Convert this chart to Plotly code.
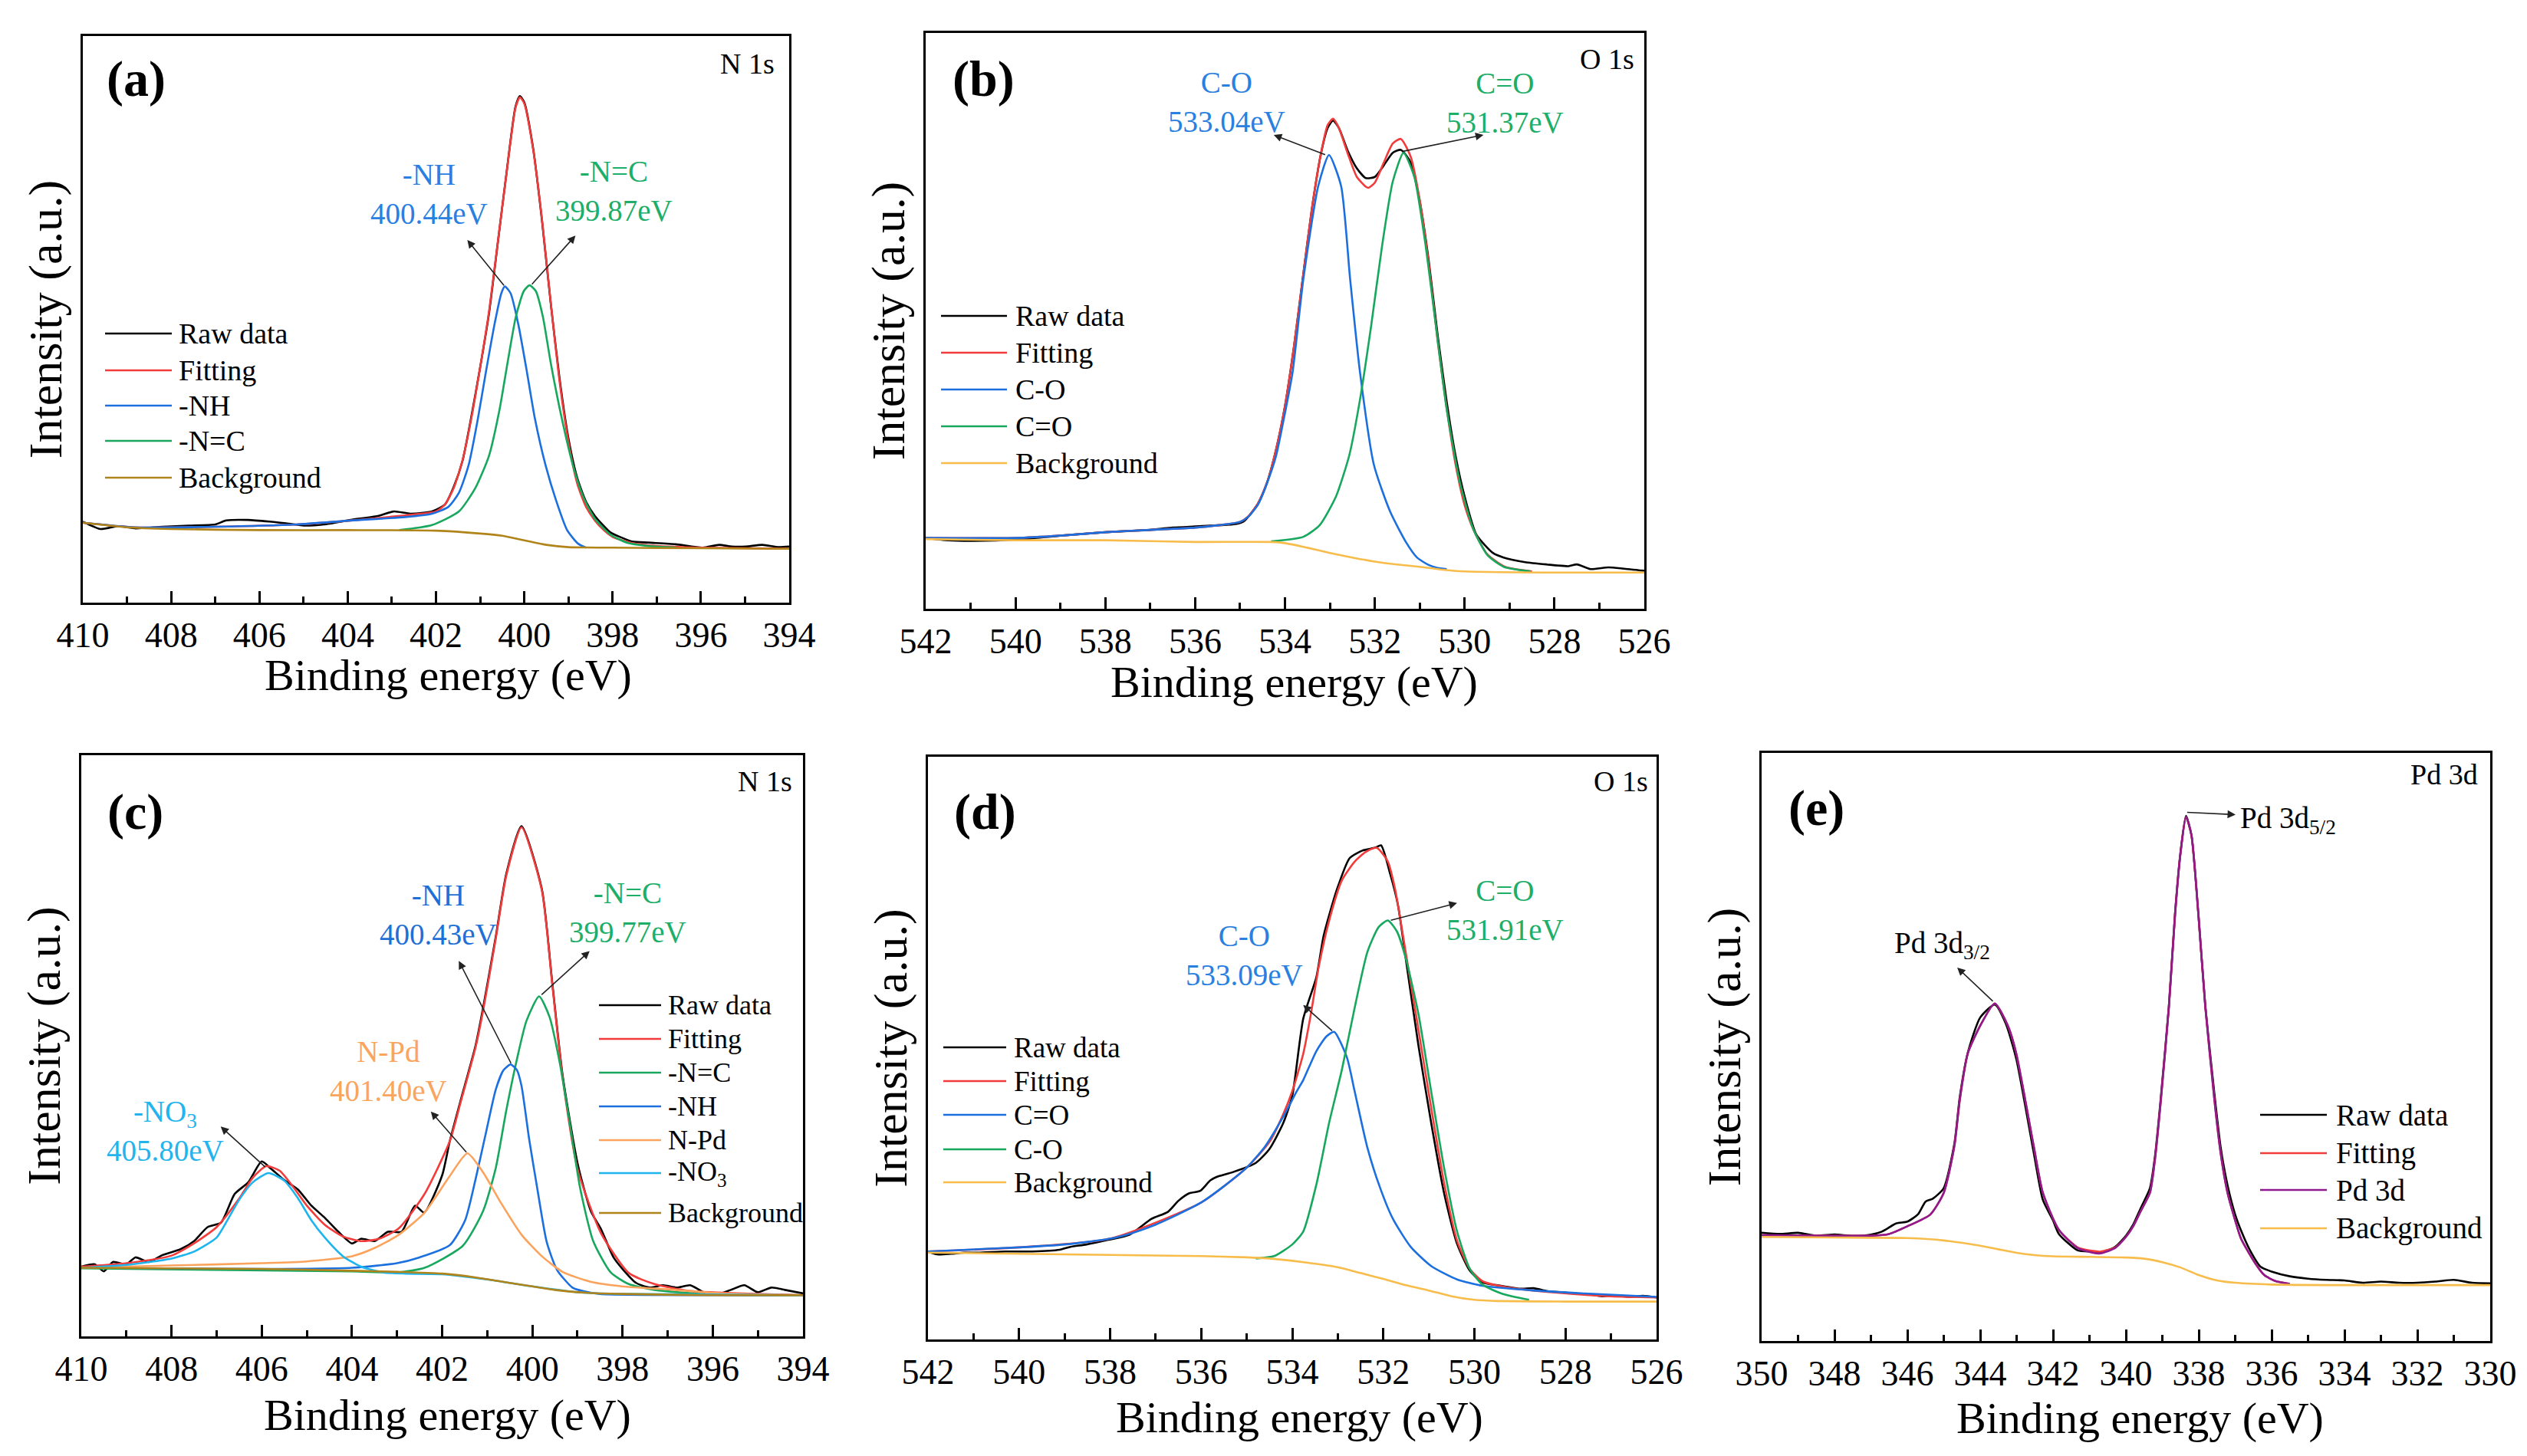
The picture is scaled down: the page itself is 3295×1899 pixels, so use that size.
import plotly.graph_objects as go

# XPS spectra, intensity in arbitrary units (0-100 = frame height)

# (a) N 1s
a_raw_x = [410.0, 409.6, 409.2, 408.8, 408.2, 407.6, 407.0, 406.75, 406.26, 405.77, 405.3, 405.0, 404.54, 403.93,
           403.32, 402.95, 402.58, 402.09, 401.8, 401.6, 401.4, 401.2, 401.0, 400.8, 400.6, 400.4, 400.2, 400.1, 400.0,
           399.8, 399.6, 399.4, 399.2, 399.0, 398.8, 398.6, 398.4, 398.05, 397.8, 397.56, 397.19, 396.57, 395.96,
           395.59, 395.3, 394.98, 394.61, 394.24, 394.0]
a_raw_y = [14.3, 13.0, 13.5, 13.1, 13.4, 13.6, 13.8, 14.5, 14.6, 14.3, 13.9, 13.6, 13.8, 14.6,
           15.3, 16.1, 15.7, 16.1, 17.3, 20.4, 25.0, 32.8, 41.5, 51.0, 63.5, 76.0, 87.5, 89.4, 88.3,
           80.2, 67.5, 52.8, 39.5, 29.0, 22.0, 17.8, 15.3, 12.4, 11.5, 10.8, 10.6, 10.3, 9.7,
           10.2, 9.9, 9.9, 10.2, 9.8, 9.9]
a_fit_x = [410.0, 408.84, 407.0, 405.16, 403.93, 402.7, 402.0, 401.8, 401.6, 401.4, 401.2, 401.0, 400.8, 400.6,
           400.4, 400.2, 400.1, 400.0, 399.8, 399.6, 399.4, 399.2, 399.0, 398.8, 398.6, 398.4, 398.2, 398.0, 397.6,
           397.0, 396.0, 394.0]
a_fit_y = [14.1, 13.3, 13.4, 13.8, 14.5, 15.4, 16.1, 17.3, 20.2, 25.1, 32.5, 41.5, 51.3, 63.6,
           75.9, 87.3, 89.2, 88.1, 80.0, 67.7, 52.9, 39.0, 28.4, 21.0, 16.9, 14.5, 12.8, 11.6, 10.6,
           10.0, 9.7, 9.5]
a_nh_x = [410.0, 408.84, 407.0, 405.16, 403.93, 402.7, 402.09, 401.72, 401.48, 401.26, 401.05, 400.87, 400.68,
          400.52, 400.44, 400.31, 400.13, 399.94, 399.76, 399.52, 399.27, 399.03, 398.78, 398.6]
a_nh_y = [14.1, 13.3, 13.4, 13.8, 14.5, 15.1, 15.7, 16.9, 19.4, 24.3, 32.5, 40.7, 48.9,
          54.6, 55.8, 54.6, 48.9, 40.7, 32.5, 24.3, 17.8, 12.8, 10.4, 9.7]
a_nc_x = [402.83, 402.09, 401.48, 401.11, 400.8, 400.56, 400.38, 400.19, 400.01, 399.88, 399.74, 399.58, 399.4,
          399.15, 398.9, 398.66, 398.41, 398.05, 397.68, 397.19, 396.57]
a_nc_y = [12.8, 13.7, 16.1, 20.2, 25.9, 34.1, 42.3, 50.5, 55.0, 56.0, 55.0, 50.5, 42.3,
          32.5, 24.3, 18.6, 14.9, 12.0, 10.6, 10.0, 9.7]
a_bg_x = [410, 409, 408, 406, 404, 402, 401, 400.5, 400, 399.5, 399, 398, 396, 394]
a_bg_y = [14.1, 13.3, 13.0, 12.8, 12.8, 12.7, 12.2, 11.8, 11.0, 10.2, 9.8, 9.7, 9.6, 9.5]

# (b) O 1s
b_raw_x = [542, 541.5, 541.0, 540.0, 539.0, 538.0, 537.5, 537.0, 536.5, 536.0, 535.5, 535.1, 534.9, 534.6, 534.4,
           534.2, 534.0, 533.8, 533.6, 533.4, 533.2, 533.05, 532.93, 532.8, 532.6, 532.4, 532.2, 532.0, 531.8,
           531.6, 531.42, 531.2, 531.0, 530.8, 530.6, 530.4, 530.2, 530.0, 529.74, 529.37, 529.13, 528.65, 528.17,
           527.69, 527.5, 527.2, 526.8, 526.48, 526.0]
b_raw_y = [12.3, 11.9, 11.8, 12.0, 12.7, 13.3, 13.5, 13.7, 14.1, 14.3, 14.5, 14.7, 15.3, 18.3, 21.9,
           27.6, 35.2, 45.5, 57.6, 69.5, 79.0, 83.5, 84.8, 83.5, 79.5, 76.5, 74.8, 75.0, 77.0,
           79.2, 79.7, 77.5, 70.8, 60.5, 47.5, 36.0, 26.5, 19.5, 12.9, 9.7, 8.9, 8.1, 7.7,
           7.4, 7.7, 6.9, 7.2, 7.0, 6.6]
b_fit_x = [542, 540, 539, 538, 537, 536, 535.5, 535.0, 534.8, 534.6, 534.4, 534.2, 534.0, 533.8, 533.6, 533.4,
           533.2, 533.05, 532.93, 532.8, 532.6, 532.4, 532.2, 532.14, 532.0, 531.8, 531.6, 531.42, 531.2, 531.0,
           530.8, 530.6, 530.4, 530.2, 530.0, 529.8, 529.5, 529.1, 528.5]
b_fit_y = [12.3, 12.3, 12.7, 13.3, 13.7, 14.1, 14.5, 15.1, 16.2, 18.3, 21.9, 27.6, 35.2, 45.5, 57.6, 69.5,
           79.0, 84.0, 85.1, 83.5, 79.0, 75.0, 73.3, 73.1, 74.0, 77.5, 80.8, 81.6, 78.5, 71.0,
           60.0, 46.5, 34.8, 25.0, 18.0, 13.7, 9.5, 7.3, 6.5]
b_co_x = [542, 540, 539, 538, 537, 536, 535.5, 535.0, 534.8, 534.6, 534.4, 534.2, 534.0, 533.83, 533.59, 533.26,
          533.02, 532.75, 532.55, 532.33, 532.02, 531.66, 531.3, 531.06, 530.8, 530.6, 530.4]
b_co_y = [12.3, 12.3, 12.7, 13.3, 13.7, 14.1, 14.5, 15.1, 16.1, 18.1, 21.8, 26.5, 34.0, 41.1, 57.3, 73.4,
          78.8, 73.4, 57.3, 41.1, 25.0, 16.9, 11.5, 8.9, 7.6, 7.1, 6.9]
b_cdo_x = [534.31, 533.59, 533.23, 532.87, 532.57, 532.33, 532.08, 531.84, 531.6, 531.36, 531.12, 530.88, 530.64,
           530.4, 530.1, 529.8, 529.49, 529.13, 528.53]
b_cdo_y = [11.7, 12.5, 14.5, 19.4, 26.6, 36.3, 49.2, 62.9, 74.2, 79.2, 75.0, 63.7, 49.2,
           34.7, 21.8, 13.7, 9.3, 7.3, 6.5]
b_bg_x = [542, 540, 538, 536, 534.3, 534.0, 533.5, 533.0, 532.5, 532.0, 531.5, 531.0, 530.5, 530.0, 528.0, 526.0]
b_bg_y = [12.1, 11.9, 11.9, 11.6, 11.6, 11.4, 10.6, 9.7, 8.9, 8.2, 7.7, 7.3, 6.8, 6.5, 6.3, 6.3]

# (c) N 1s after Pd loading
c_raw_x = [410, 409.7, 409.5, 409.3, 409.0, 408.8, 408.5, 408.2, 407.8, 407.5, 407.2, 406.9, 406.6, 406.3, 406.0,
           405.8, 405.5, 405.2, 404.9, 404.6, 404.3, 404.0, 403.8, 403.5, 403.2, 402.9, 402.6, 402.4, 402.0,
           401.83, 401.6, 401.26, 401.09, 400.81, 400.58, 400.24, 399.79, 399.56, 399.33, 398.99, 398.7, 398.48,
           398.2, 398.0, 397.7, 397.4, 397.1, 396.8, 396.5, 396.2, 395.9, 395.6, 395.3, 395.0, 394.7, 394.4, 394.0]
c_raw_y = [12.0, 12.4, 11.2, 12.8, 12.4, 13.6, 12.8, 14.0, 15.0, 16.4, 18.8, 19.6, 24.5, 26.5, 30.1,
           28.9, 26.9, 25.3, 22.5, 20.4, 18.0, 16.0, 16.8, 16.4, 18.0, 18.0, 22.5, 21.3, 27.7,
           33.6, 40.3, 50.0, 56.6, 68.8, 79.5, 87.8, 77.0, 61.0, 45.0, 29.5, 21.5, 18.5,
           13.6, 11.6, 9.2, 8.4, 8.8, 8.4, 8.8, 7.6, 7.2, 8.0, 8.8, 7.6, 8.4, 8.0, 7.4]
c_fit_x = [410, 409, 408, 407.5, 407, 406.5, 406.2, 405.9, 405.6, 405.3, 405.0, 404.6, 404.2, 403.8, 403.4, 402.96,
           402.39, 401.83, 401.6, 401.26, 401.09, 400.81, 400.58, 400.24, 399.79, 399.56, 399.33, 398.99, 398.48,
           397.86, 397.29, 396.5, 395, 394]
c_fit_y = [12.0, 12.6, 13.9, 16.0, 18.8, 23.7, 27.3, 29.3, 28.5, 25.7, 22.5, 19.2, 17.2, 16.4, 16.8, 18.6,
           24.5, 33.6, 40.0, 49.7, 56.1, 68.5, 79.2, 87.6, 76.8, 60.7, 44.6, 28.6, 17.8,
           10.9, 9.0, 7.8, 7.3, 7.1]
c_nc_x = [410, 404, 403, 402.39, 401.54, 401.09, 400.81, 400.58, 400.35, 400.13, 399.85, 399.62, 399.39, 399.16,
          398.94, 398.65, 398.26, 397.86, 397.29, 396, 394]
c_nc_y = [11.7, 11.2, 11.0, 11.8, 15.6, 21.6, 29.0, 38.8, 47.4, 54.3, 58.5, 55.0, 47.0, 36.2,
          25.5, 16.4, 11.0, 9.0, 8.0, 7.2, 7.1]
c_nh_x = [410, 406, 404, 403, 402.5, 401.83, 401.49, 401.26, 401.03, 400.81, 400.64, 400.48, 400.34, 400.24,
          400.07, 399.9, 399.68, 399.45, 399.11, 398.88, 398.5, 396, 394]
c_nh_y = [11.8, 11.6, 11.8, 12.6, 13.6, 15.7, 20.0, 27.0, 35.0, 42.5, 45.8, 46.8, 45.8, 43.1,
          33.9, 25.9, 16.2, 11.4, 8.4, 7.8, 7.3, 7.1, 7.1]
c_npd_x = [410, 408, 406, 405, 404, 403.5, 402.96, 402.39, 401.83, 401.44, 401.09, 400.69, 400.24, 399.79, 399.33,
           398.71, 397.86, 397.01, 396, 395, 394]
c_npd_y = [11.8, 12.2, 12.6, 12.9, 13.8, 15.2, 17.5, 21.3, 27.6, 31.5, 28.2, 22.9, 17.5, 13.8, 11.1,
           9.4, 8.5, 8.1, 7.5, 7.2, 7.1]
c_no3_x = [410.0, 409.0, 408.0, 407.5, 407.0, 406.76, 406.5, 406.2, 405.85, 405.5, 405.2, 404.9, 404.6, 404.2,
           403.8, 403.3, 402.8, 402.0, 401.0, 400.0, 399.0, 398.0, 394.0]
c_no3_y = [11.8, 12.3, 13.4, 14.6, 17.0, 20.0, 23.5, 26.5, 28.1, 26.8, 23.8, 20.0, 17.0, 13.8,
           12.0, 11.0, 10.8, 10.7, 9.8, 8.6, 7.6, 7.3, 7.1]
c_bg_x = [410, 406, 404, 403, 402, 401.3, 400.5, 400, 399.5, 399, 398, 396, 394]
c_bg_y = [11.8, 11.6, 11.3, 11.1, 10.8, 10.2, 9.2, 8.6, 8.0, 7.6, 7.3, 7.1, 7.1]

# (d) O 1s after Pd loading
d_raw_x = [542, 541.8, 541.49, 541.2, 540.89, 540.3, 539.71, 539.11, 538.87, 538.52, 538.04, 537.57, 537.09,
           536.73, 536.5, 536.26, 536.02, 535.8, 535.66, 535.31, 534.8, 534.5, 534.2, 534.0, 533.76, 533.47,
           533.31, 533.02, 532.74, 532.46, 532.18, 532.05, 531.85, 531.68, 531.51, 531.23, 530.95, 530.66,
           530.38, 530.1, 529.82, 529.5, 529.26, 529.0, 528.7, 528.4, 528.1, 527.8, 527.5, 527.2, 526.9, 526.6,
           526.3, 526.0]
d_raw_y = [15.1, 14.6, 14.7, 14.9, 14.9, 15.1, 15.1, 15.4, 15.9, 16.3, 17.1, 18.0, 20.7,
           21.9, 23.8, 25.1, 25.5, 27.3, 27.9, 28.7, 30.3, 32.7, 37.1, 41.8, 55.0, 62.2,
           69.3, 77.2, 82.6, 83.9, 84.4, 84.8, 79.9, 74.6, 65.5, 50.5, 37.2, 24.9,
           16.4, 11.8, 9.8, 9.3, 9.0, 8.7, 8.8, 8.3, 8.1, 7.9, 7.8, 7.4, 7.6, 7.3,
           7.5, 7.2]
d_fit_x = [542, 540, 538, 536, 535, 534.5, 534.2, 534.0, 533.76, 533.59, 533.42, 533.19, 532.91, 532.63, 532.4,
           532.15, 531.9, 531.74, 531.51, 531.23, 530.95, 530.66, 530.38, 530.1, 529.82, 529.26, 528.13, 527.0,
           526.0]
d_fit_y = [15.1, 15.8, 17.3, 23.5, 29.5, 33.9, 38.6, 42.6, 49.0, 55.9, 63.9, 71.9, 78.8, 82.0, 83.6,
           84.4, 82.0, 77.2, 66.5, 53.2, 39.8, 26.6, 16.9, 12.1, 10.0, 8.9, 8.0, 7.4,
           7.2]
d_cdo_x = [542, 540, 539, 538, 537.5, 537, 536.5, 536, 535.5, 535, 534.6, 534.2, 533.9, 533.76, 533.47, 533.25,
           533.08, 532.8, 532.63, 532.35, 532.07, 531.79, 531.4, 530.95, 530.38, 529.82, 528.7, 527.57, 526]
d_cdo_y = [15.1, 15.8, 16.3, 17.3, 18.3, 19.7, 21.5, 23.5, 26.3, 29.5, 33.1, 38.2, 42.6, 44.5, 49.5, 52.0,
           52.8, 48.4, 42.6, 32.9, 26.0, 20.7, 15.9, 12.6, 10.3, 9.2, 8.4, 7.9, 7.3]
d_co_x = [534.8, 534.4, 534.0, 533.76, 533.47, 533.19, 532.91, 532.63, 532.35, 532.1, 531.9, 531.7, 531.51, 531.23,
          530.95, 530.66, 530.38, 530.1, 529.82, 529.37, 528.8]
d_co_y = [13.9, 14.3, 16.3, 18.5, 26.6, 37.2, 46.3, 56.9, 66.5, 70.8, 71.9, 70.0, 65.5, 55.9,
          42.6, 29.2, 18.5, 12.1, 9.4, 7.8, 6.8]
d_bg_x = [542, 540, 538, 536, 535, 534.5, 534, 533.5, 533, 532.5, 532, 531.5, 531, 530.5, 530, 529.5, 528, 526]
d_bg_y = [14.9, 14.7, 14.5, 14.3, 14.1, 13.9, 13.5, 13.0, 12.4, 11.4, 10.4, 9.3, 8.4, 7.4, 6.8, 6.6, 6.5, 6.5]

# (e) Pd 3d
e_raw_x = [350, 349.5, 349, 348.5, 348, 347.5, 347, 346.7, 346.3, 346.0, 345.7, 345.5, 345.3, 345.0, 344.71,
           344.56, 344.34, 344.0, 343.6, 343.3, 343.01, 342.53, 342.28, 342.0, 341.84, 341.32, 340.9, 340.7,
           340.3, 340.0, 339.8, 339.6, 339.34, 339.2, 339.04, 338.82, 338.65, 338.5, 338.35, 338.2, 338.01,
           337.82, 337.57, 337.4, 337.21, 337.0, 336.84, 336.6, 336.3, 336.0, 335.5, 335.0, 334.5, 334.0, 333.5,
           333.0, 332.5, 332.0, 331.5, 331.0, 330.5, 330.0]
e_raw_y = [18.4, 18.2, 18.4, 17.9, 18.1, 17.9, 18.1, 18.6, 20.0, 20.3, 21.6, 23.7, 24.2, 26.0, 33.5,
           41.5, 49.0, 55.0, 57.2, 54.0, 48.0, 32.0, 24.0, 20.5, 18.2, 15.4, 15.2, 15.0,
           16.0, 17.9, 19.8, 22.5, 26.0, 31.5, 41.5, 57.0, 72.8, 83.2, 89.3, 86.0, 72.5,
           57.0, 42.0, 33.0, 26.5, 21.5, 18.8, 15.5, 12.6, 11.8, 11.0, 10.6, 10.4, 10.3, 9.9,
           10.1, 9.9, 9.9, 10.1, 10.4, 9.9, 9.8]
e_pd_x = [350, 348, 347, 346.5, 346, 345.37, 345.0, 344.71, 344.56, 344.34, 344.0, 343.6, 343.24, 343.01, 342.53,
          342.28, 341.84, 341.32, 340.9, 340.7, 340.3, 340.0, 339.8, 339.6, 339.34, 339.2, 339.04, 338.82, 338.65,
          338.5, 338.35, 338.2, 338.01, 337.82, 337.57, 337.4, 337.21, 337.0, 336.84, 336.47, 336.2, 335.9, 335.5]
e_pd_y = [18.0, 17.9, 17.9, 18.2, 19.5, 21.5, 25.2, 33.1, 41.0, 48.9, 53.6, 57.4, 53.6, 48.9, 33.1,
          25.2, 18.9, 15.8, 15.0, 14.9, 15.8, 17.7, 19.5, 22.0, 25.2, 31.0, 41.0, 56.8, 72.6,
          83.0, 89.1, 86.0, 72.6, 56.8, 41.0, 32.0, 25.2, 20.5, 17.4, 13.4, 11.2, 10.2, 9.7]
e_fit_x = [350, 348, 347, 346.5, 346, 345.37, 345.0, 344.71, 344.56, 344.34, 344.0, 343.6, 343.24, 343.01, 342.53,
           342.28, 341.84, 341.32, 340.9, 340.7, 340.3, 340.0, 339.8, 339.6, 339.34, 339.2, 339.04, 338.82, 338.65,
           338.5, 338.35, 338.2, 338.01, 337.82, 337.57, 337.4, 337.21, 337.0, 336.84, 336.47, 336.2, 335.9, 335.5]
e_fit_y = [18.0, 17.9, 17.9, 18.2, 19.5, 21.5, 25.2, 33.1, 41.0, 48.9, 53.6, 57.4, 53.6, 48.9, 33.1,
           25.2, 18.9, 15.9, 15.3, 15.2, 15.9, 17.7, 19.5, 22.0, 25.2, 31.0, 41.0, 56.8, 72.6,
           83.0, 89.1, 86.0, 72.6, 56.8, 41.0, 32.0, 25.2, 20.5, 17.4, 13.4, 11.2, 10.2, 9.7]
e_bg_x = [350, 348, 346, 345, 344, 343.5, 343, 342.5, 342, 341, 340, 339.5, 339, 338.5, 338, 337.5, 337, 336, 334, 330]
e_bg_y = [17.7, 17.6, 17.5, 17.1, 16.2, 15.6, 15.0, 14.6, 14.4, 14.3, 14.2, 14.0, 13.4, 12.5, 11.2, 10.3, 9.9,
          9.6, 9.5, 9.5]

# picture size; the page puts an 8 px margin round the figure, so the figure is a bit smaller
W, H = 3295, 1899
PAD = 8
FW, FH = W - 2 * PAD, H - 2 * PAD
FONT = "Liberation Serif"

BLACK = "#000000"
RED = "#F23B3B"
BLUE = "#1C6FDE"
GREEN = "#17A85D"
BROWN = "#B08419"
LORANGE = "#F7BC4A"
ORANGE = "#FBA35C"
CYAN = "#1EB5EF"
PURPLE = "#8E1A8E"


def px(x, y):
    # pixel position in the picture -> paper coordinates
    return (x - PAD) / FW, 1 - (y - PAD) / FH


def text_at(pos, text, size, color="black", xanchor="center"):
    x, y = px(*pos)
    return dict(x=x, y=y, xref="paper", yref="paper", text=text, showarrow=False,
                xanchor=xanchor, yanchor="middle", font=dict(size=size, color=color))


# frame of each panel in pixels: left, top, right, bottom
panels = [
    dict(n="", box=(108, 47, 1029, 786), rng=[410, 394], letter="(a)", lpos=(177, 103),
         region="N 1s", rpos=(1012, 83), xtitle=(584, 880),
         series=[(a_raw_x, a_raw_y, BLACK), (a_fit_x, a_fit_y, RED), (a_nh_x, a_nh_y, BLUE),
                 (a_nc_x, a_nc_y, GREEN), (a_bg_x, a_bg_y, BROWN)],
         legend=dict(items=[("Raw data", BLACK), ("Fitting", RED), ("-NH", BLUE), ("-N=C", GREEN),
                            ("Background", BROWN)],
                     x0=137, x1=224, tx=231, rows=[435, 483, 529, 575, 623], size=38)),
    dict(n="2", box=(1207, 43, 2144, 794), rng=[542, 526], letter="(b)", lpos=(1282, 103),
         region="O 1s", rpos=(2133, 77), xtitle=(1687, 889),
         series=[(b_raw_x, b_raw_y, BLACK), (b_fit_x, b_fit_y, RED), (b_co_x, b_co_y, BLUE),
                 (b_cdo_x, b_cdo_y, GREEN), (b_bg_x, b_bg_y, LORANGE)],
         legend=dict(items=[("Raw data", BLACK), ("Fitting", RED), ("C-O", BLUE), ("C=O", GREEN),
                            ("Background", LORANGE)],
                     x0=1227, x1=1313, tx=1322, rows=[412, 460, 508, 556, 604], size=38)),
    dict(n="3", box=(106, 985, 1047, 1743), rng=[410, 394], letter="(c)", lpos=(176, 1059),
         region="N 1s", rpos=(1035, 1019), xtitle=(583, 1845),
         series=[(c_raw_x, c_raw_y, BLACK), (c_fit_x, c_fit_y, RED), (c_nc_x, c_nc_y, GREEN),
                 (c_nh_x, c_nh_y, BLUE), (c_npd_x, c_npd_y, ORANGE), (c_no3_x, c_no3_y, CYAN),
                 (c_bg_x, c_bg_y, BROWN)],
         legend=dict(items=[("Raw data", BLACK), ("Fitting", RED), ("-N=C", GREEN), ("-NH", BLUE),
                            ("N-Pd", ORANGE), ("-NO<sub>3</sub>", CYAN), ("Background", BROWN)],
                     x0=781, x1=862, tx=869, rows=[1311, 1355, 1399, 1443, 1487, 1530, 1582], size=36)),
    dict(n="4", box=(1210, 987, 2160, 1747), rng=[542, 526], letter="(d)", lpos=(1284, 1059),
         region="O 1s", rpos=(2151, 1019), xtitle=(1694, 1848),
         series=[(d_raw_x, d_raw_y, BLACK), (d_fit_x, d_fit_y, RED), (d_cdo_x, d_cdo_y, BLUE),
                 (d_co_x, d_co_y, GREEN), (d_bg_x, d_bg_y, LORANGE)],
         legend=dict(items=[("Raw data", BLACK), ("Fitting", RED), ("C=O", BLUE), ("C-O", GREEN),
                            ("Background", LORANGE)],
                     x0=1230, x1=1312, tx=1320, rows=[1366, 1410, 1454, 1499, 1542], size=37)),
    dict(n="5", box=(2297, 982, 3247, 1749), rng=[350, 330], letter="(e)", lpos=(2368, 1054),
         region="Pd 3d", rpos=(3233, 1010), xtitle=(2790, 1849),
         series=[(e_raw_x, e_raw_y, BLACK), (e_fit_x, e_fit_y, RED), (e_pd_x, e_pd_y, PURPLE),
                 (e_bg_x, e_bg_y, LORANGE)],
         legend=dict(items=[("Raw data", BLACK), ("Fitting", RED), ("Pd 3d", PURPLE), ("Background", LORANGE)],
                     x0=2947, x1=3034, tx=3044, rows=[1454, 1504, 1552, 1602], size=39)),
]

fig = go.Figure()
layout = {}
shapes = []
annotations = []

for p in panels:
    n = p["n"]
    l, t, r, b = p["box"]
    xl, yt = px(l, t)
    xr, yb = px(r, b)
    for xs, ys, col in p["series"]:
        fig.add_trace(go.Scatter(x=xs, y=ys, mode="lines", xaxis="x" + n, yaxis="y" + n,
                                 line=dict(color=col, width=2.6, shape="spline", smoothing=0.6),
                                 showlegend=False, hoverinfo="skip"))
    layout["xaxis" + n] = dict(
        domain=[xl, xr], range=p["rng"], anchor="y" + n, automargin=False,
        showline=True, mirror=True, linecolor="black", linewidth=3,
        ticks="inside", ticklen=15, tickwidth=3, tickcolor="black", dtick=2,
        minor=dict(ticks="inside", ticklen=8, tickwidth=3, tickcolor="black", dtick=1),
        tickfont=dict(size=46, color="black"), ticklabelstandoff=0, ticklabeloverflow="allow",
        showgrid=False, zeroline=False)
    layout["yaxis" + n] = dict(
        domain=[yb, yt], range=[0, 100], anchor="x" + n, automargin=False,
        showline=True, mirror=True, linecolor="black", linewidth=3,
        ticks="", showticklabels=False, showgrid=False, zeroline=False,
        title=dict(text="Intensity (a.u.)", font=dict(size=62, color="black"), standoff=5))

    annotations.append(text_at(p["xtitle"], "Binding energy (eV)", 58))
    annotations.append(text_at(p["lpos"], "<b>%s</b>" % p["letter"], 66))
    annotations.append(text_at(p["rpos"], p["region"], 38, xanchor="right"))

    # legend drawn as in the original figure (long line samples)
    lg = p["legend"]
    for (label, col), row in zip(lg["items"], lg["rows"]):
        x0, y0 = px(lg["x0"], row)
        x1, _ = px(lg["x1"], row)
        shapes.append(dict(type="line", xref="paper", yref="paper", x0=x0, x1=x1, y0=y0, y1=y0,
                           line=dict(color=col, width=2.6)))
        annotations.append(text_at((lg["tx"], row), label, lg["size"], xanchor="left"))

# peak labels: (text, pixel position, colour)
labels = [
    ("-NH<br>400.44eV", (559, 253), "#2A80E0"),
    ("-N=C<br>399.87eV", (800, 249), "#1DAE69"),
    ("C-O<br>533.04eV", (1599, 133), "#2A80E0"),
    ("C=O<br>531.37eV", (1962, 134), "#1DAE69"),
    ("-NH<br>400.43eV", (571, 1193), "#1E6FD6"),
    ("-N=C<br>399.77eV", (818, 1190), "#1DAE69"),
    ("N-Pd<br>401.40eV", (506, 1397), "#F9A55E"),
    ("-NO<sub>3</sub><br>405.80eV", (215, 1475), "#23B4EE"),
    ("C-O<br>533.09eV", (1622, 1246), "#2A80E0"),
    ("C=O<br>531.91eV", (1962, 1187), "#1DAE69"),
]
for text, pos, col in labels:
    annotations.append(text_at(pos, text, 39, color=col))
for text, pos in [("Pd 3d<sub>5/2</sub>", (2919, 1069)), ("Pd 3d<sub>3/2</sub>", (2468, 1232))]:
    annotations.append(text_at(pos, text, 39, xanchor="left"))

# arrows from each peak top to its label: (axis suffix, head x, head y, tail x, tail y)
arrows = [
    ("", 401.29, 64.0, 400.44, 55.8),
    ("", 398.84, 64.8, 399.85, 56.0),
    ("2", 534.25, 82.3, 533.08, 78.8),
    ("2", 529.58, 82.3, 531.40, 79.4),
    ("3", 401.63, 64.6, 400.46, 46.8),
    ("3", 398.73, 66.3, 399.82, 58.6),
    ("3", 402.25, 38.7, 401.44, 31.5),
    ("3", 406.91, 36.1, 405.9, 29.0),
    ("4", 533.76, 57.4, 533.10, 52.8),
    ("4", 530.38, 74.9, 531.86, 71.9),
    ("5", 336.99, 89.5, 338.35, 89.9),
    ("5", 344.63, 63.5, 343.62, 57.6),
]
for n, hx, hy, tx, ty in arrows:
    annotations.append(dict(x=hx, y=hy, ax=tx, ay=ty, xref="x" + n, yref="y" + n, axref="x" + n, ayref="y" + n,
                            text="", showarrow=True, arrowhead=2, arrowsize=1.3, arrowwidth=1.6,
                            arrowcolor="#222222"))

fig.update_layout(width=FW, height=FH, margin=dict(l=0, r=0, t=0, b=0),
                  paper_bgcolor="white", plot_bgcolor="white",
                  font=dict(family=FONT, color="black"),
                  shapes=shapes, annotations=annotations, **layout)

fig.write_html("out.html")
